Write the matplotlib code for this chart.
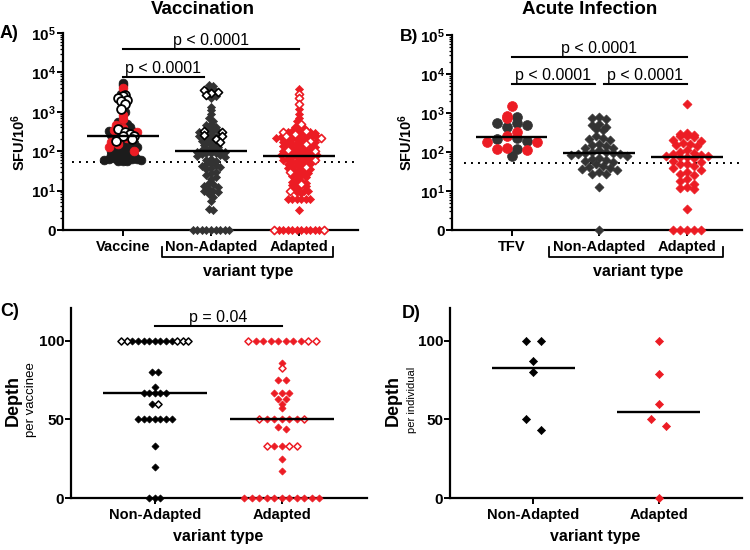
import numpy as np
import matplotlib
matplotlib.use('Agg')
import matplotlib.pyplot as plt
import matplotlib.transforms as mtransforms
from matplotlib.ticker import NullFormatter

plt.rcParams['font.family'] = ['Liberation Sans', 'DejaVu Sans']
plt.rcParams['mathtext.fontset'] = 'custom'
plt.rcParams['mathtext.rm'] = 'Liberation Sans:bold'
plt.rcParams['mathtext.it'] = 'Liberation Sans:bold'
plt.rcParams['mathtext.bf'] = 'Liberation Sans:bold'

RED = '#ec1c24'
DARK = '#333333'

# ---- panel A: vaccination, SFU/10^6 ----
a_cats = ['Vaccine', 'Non-Adapted', 'Adapted']
vac_black = [5500, 4800, 2800, 1000, 600, 550, 500, 480, 450, 400, 350, 330, 320, 300,
             280, 260, 230, 210, 190, 180, 170, 160, 150, 140, 140, 130, 125, 120, 115,
             110, 105, 100, 95, 90, 88, 85, 80, 78, 75, 72, 70, 68, 65, 64, 62, 61, 60,
             58, 57, 56]
vac_red = [4000, 1500, 850, 650, 450, 380, 350, 310, 220, 170, 150, 130, 100]
vac_open = [2600, 2500, 2300, 2000, 1900, 1600, 1200, 370, 300, 280, 250, 240, 200, 180]
na_a_fill = [4800, 4500, 4000, 3800, 2500, 2200, 1300, 1100, 900, 700, 600, 500, 450,
             400, 380, 350, 320, 300, 280, 260, 250, 240, 220, 210, 180, 160, 150, 140,
             130, 120, 115, 110, 105, 100, 98, 95, 92, 90, 88, 85, 80, 75, 70, 65, 60,
             55, 50, 48, 45, 42, 40, 38, 35, 30, 28, 25, 22, 20, 16, 15, 13, 12, 11, 10,
             10, 9, 8, 7, 5.5, 3.5, 3.2, 0, 0, 0, 0, 0, 0, 0, 0, 0]
na_a_open = [3500, 3200, 3000, 2600, 330, 300, 260, 240, 200, 170]
ad_a_fill = [3900, 1200, 900, 700, 600, 450, 400, 380, 350, 330, 320, 300, 300, 290, 280,
             270, 260, 250, 240, 230, 225, 220, 210, 200, 200, 190, 180, 175, 170, 160,
             155, 150, 145, 140, 135, 130, 125, 120, 115, 110, 105, 100, 98, 95, 92, 90,
             88, 85, 82, 80, 78, 75, 73, 70, 68, 65, 62, 60, 58, 55, 52, 50, 48, 46, 44,
             42, 40, 38, 36, 34, 32, 30, 28, 26, 25, 24, 22, 20, 18, 17, 16, 15, 14, 13,
             12, 11, 10, 9.5, 9, 8.5, 6, 6, 6, 6, 6, 6, 3.3,
             0, 0, 0, 0, 0, 0, 0, 0, 0, 0]
ad_a_open = [2900, 2200, 1600, 500, 320, 300, 280, 250, 220, 180, 150, 110, 100, 60, 40,
             30, 15, 10, 0, 0]
med_a = [250, 100, 75]

# ---- panel B: acute infection ----
b_cats = ['TFV', 'Non-Adapted', 'Adapted']
tfv_dark = [800, 550, 550, 490, 430, 225, 210, 195, 117, 79]
tfv_red = [1500, 830, 730, 330, 257, 184, 184, 129, 117, 112]
na_b = [780, 760, 700, 520, 480, 440, 400, 360, 250, 230, 220, 200, 160, 150, 140, 130,
        125, 115, 100, 98, 95, 92, 90, 88, 85, 80, 70, 66, 62, 58, 55, 48, 45, 42, 40,
        37, 35, 30, 28, 27, 13, 0]
ad_b = [1700, 300, 290, 270, 260, 250, 240, 200, 190, 170, 160, 150, 140, 110, 100, 95,
        90, 85, 80, 78, 76, 75, 72, 60, 55, 50, 48, 45, 38, 35, 30, 28, 25, 20, 18, 15,
        13, 12, 11, 3.5, 0, 0, 0, 0, 0]
med_b = [240, 92, 73]
cutoff = 52

# ---- panel C: depth per vaccinee ----
cd_cats = ['Non-Adapted', 'Adapted']
na_c_fill = [100, 100, 100, 100, 100, 100, 100, 100, 80, 80, 71, 67, 67, 67, 67, 67, 60,
             50, 50, 50, 50, 50, 50, 50, 33, 20, 0, 0, 0]
na_c_open = [100, 100, 100, 100, 100, 60]
ad_c_fill = [100, 100, 100, 100, 100, 100, 100, 86, 75, 75, 67, 67, 67, 63, 63, 60, 57,
             50, 50, 50, 50, 50, 45, 44, 33, 33, 25, 17,
             0, 0, 0, 0, 0, 0, 0, 0, 0, 0, 0]
ad_c_open = [100, 100, 100, 83, 50, 50, 33, 33, 33]
med_c = [67, 50]

# ---- panel D: depth per individual ----
na_d = [100, 100, 87, 80, 50, 43]
ad_d = [100, 79, 60, 50, 46, 0]
med_d = [83, 55]

W, H = 750, 550
fig = plt.figure(figsize=(7.5, 5.5), dpi=100)


def box(l, t, r, b):
    return [l / W, 1 - b / H, (r - l) / W, (b - t) / H]


def spread(ax, xc, vals, dx, dy):
    # row-based scatter: points falling in the same pixel row are laid side by side,
    # highest value in the middle, then alternating outwards
    vals = np.asarray(vals, float)
    if ax.get_yscale() == 'log':
        vals = np.where(vals > 0, vals, 1)
    pts = ax.transData.transform(np.column_stack([np.full(len(vals), xc), vals]))
    y0 = ax.transData.transform((xc, ax.get_ylim()[0]))[1]
    rows = np.round((pts[:, 1] - y0) / dy)
    offs = np.zeros(len(vals))
    for r in np.unique(rows):
        idx = np.where(rows == r)[0]
        idx = idx[np.argsort(-vals[idx], kind='stable')]
        slots = (np.arange(len(idx)) - (len(idx) - 1) / 2) * dx
        slots = slots[np.argsort(np.abs(slots), kind='stable')]
        offs[idx] = slots
    back = ax.transData.inverted().transform(np.column_stack([pts[:, 0] + offs, pts[:, 1]]))
    return back[:, 0], vals


def group(ax, xc, parts, marker, s, dx, dy):
    allv = np.concatenate([np.asarray(p[0], float) for p in parts])
    xs, ys = spread(ax, xc, allv, dx, dy)
    i = 0
    for vals, face, edge, lw in parts:
        n = len(vals)
        ax.scatter(xs[i:i + n], ys[i:i + n], s=s, marker=marker, c=face,
                   edgecolors=edge, linewidths=lw, clip_on=False, zorder=3)
        i += n


def style(ax, cats):
    for side in ['top', 'right']:
        ax.spines[side].set_visible(False)
    for side in ['left', 'bottom']:
        ax.spines[side].set_linewidth(1.6)
    ax.set_xticks(range(len(cats)))
    ax.set_xticklabels(cats, fontweight='bold', fontsize=10.5)
    ax.tick_params(axis='x', length=4, width=1.4, pad=3)
    ax.tick_params(axis='y', which='major', length=4, width=1.4, pad=1, labelsize=11)
    for lab in ax.get_yticklabels():
        lab.set_fontweight('bold')


def logaxis(ax):
    ax.set_yscale('log')
    ax.set_ylim(1, 1e5)
    ax.set_yticks([1, 10, 100, 1e3, 1e4, 1e5])
    ax.set_yticklabels(['0', r'$10^{1}$', r'$10^{2}$', r'$10^{3}$', r'$10^{4}$', r'$10^{5}$'])
    ax.yaxis.set_minor_formatter(NullFormatter())
    ax.tick_params(axis='y', which='minor', length=2.2, width=0.9)


def sig(ax, x1, x2, y, text):
    ax.plot([x1, x2], [y, y], color='k', lw=1.5, clip_on=False)
    ax.annotate(text, xy=((x1 + x2) / 2, y), xytext=(0, 1), textcoords='offset points',
                ha='center', va='bottom', fontsize=11.5)


def bracket(ax, x1, x2, xm):
    tr = mtransforms.blended_transform_factory(ax.transData, ax.transAxes)
    ax.plot([x1, x1, x2, x2], [-0.086, -0.137, -0.137, -0.086], transform=tr,
            color='k', lw=1.3, clip_on=False)
    ax.text(xm, -0.213, 'variant type', transform=tr, ha='center', va='center',
            fontweight='bold', fontsize=11.5)


# ---------------- A ----------------
axA = fig.add_axes(box(63, 33, 358, 230))
logaxis(axA)
axA.set_xlim(-0.68, 2.67)
style(axA, a_cats)
group(axA, 0, [(vac_black, '#1c1c1c', '#1c1c1c', 0.5), (vac_red, RED, RED, 0.5),
               (vac_open, 'white', 'black', 1.3)], 'o', 40, 4.6, 4)
group(axA, 1, [(na_a_fill, DARK, DARK, 0.5), (na_a_open, 'white', 'black', 1.2)],
      'D', 17, 4.6, 5)
group(axA, 2, [(ad_a_fill, RED, RED, 0.5), (ad_a_open, 'white', RED, 1.2)],
      'D', 17, 4.5, 4.5)
for i, m in enumerate(med_a):
    axA.hlines(m, i - 0.41, i + 0.41, color='k', lw=1.7, zorder=4)
axA.axhline(cutoff, xmin=0.03, color='k', ls=(0, (1, 2.6)), lw=1.4, zorder=2)
sig(axA, 0, 2, 3.9e4, 'p < 0.0001')
sig(axA, 0, 0.92, 7.6e3, 'p < 0.0001')
bracket(axA, 0.44, 2.39, 1.42)

# ---------------- B ----------------
axB = fig.add_axes(box(452, 35, 742, 230))
logaxis(axB)
axB.set_xlim(-0.68, 2.63)
style(axB, b_cats)
group(axB, 0, [(tfv_dark, DARK, DARK, 0.5), (tfv_red, RED, RED, 0.5)], 'o', 50, 10, 9)
group(axB, 1, [(na_b, DARK, DARK, 0.5)], 'D', 21, 7, 7)
group(axB, 2, [(ad_b, RED, RED, 0.5)], 'D', 21, 7, 7)
for i, m in enumerate(med_b):
    axB.hlines(m, i - 0.41, i + 0.41, color='k', lw=1.7, zorder=4)
axB.axhline(cutoff, xmin=0.04, color='k', ls=(0, (1, 2.6)), lw=1.4, zorder=2)
sig(axB, 0, 2, 2.7e4, 'p < 0.0001')
sig(axB, 0, 0.95, 5.5e3, 'p < 0.0001')
sig(axB, 1.05, 2, 5.5e3, 'p < 0.0001')
bracket(axB, 0.43, 2.41, 1.44)

# ---------------- C ----------------
axC = fig.add_axes(box(71, 308, 367, 498))
axC.set_ylim(0, 121)
axC.set_xlim(-0.66, 1.67)
axC.set_yticks([0, 50, 100])
style(axC, cd_cats)
group(axC, 0, [(na_c_fill, 'black', 'black', 0.5), (na_c_open, 'white', 'black', 1.1)],
      'D', 13, 5.6, 5)
group(axC, 1, [(ad_c_fill, RED, RED, 0.5), (ad_c_open, 'white', RED, 1.1)],
      'D', 13, 7.5, 5)
for i, m in enumerate(med_c):
    axC.hlines(m, i - 0.41, i + 0.41, color='k', lw=1.7, zorder=4)
sig(axC, 0, 1, 109.5, 'p = 0.04')
trC = mtransforms.blended_transform_factory(axC.transData, axC.transAxes)
axC.text(0.5, -0.205, 'variant type', transform=trC, ha='center', va='center',
         fontweight='bold', fontsize=11.5)

# ---------------- D ----------------
axD = fig.add_axes(box(450, 308, 742, 498))
axD.set_ylim(0, 121)
axD.set_xlim(-0.66, 1.66)
axD.set_yticks([0, 50, 100])
style(axD, cd_cats)
group(axD, 0, [(na_d, 'black', 'black', 0.5)], 'D', 17, 15, 15)
group(axD, 1, [(ad_d, RED, RED, 0.5)], 'D', 17, 15, 15)
for i, m in enumerate(med_d):
    axD.hlines(m, i - 0.33, i + 0.33, color='k', lw=1.7, zorder=4)
trD = mtransforms.blended_transform_factory(axD.transData, axD.transAxes)
axD.text(0.49, -0.205, 'variant type', transform=trD, ha='center', va='center',
         fontweight='bold', fontsize=11.5)

# ---------------- labels ----------------
def ftext(x, y, s, **kw):
    fig.text(x / W, 1 - y / H, s, **kw)


ftext(203, 10, 'Vaccination', ha='center', va='center', fontweight='bold', fontsize=13.5)
ftext(590, 10, 'Acute Infection', ha='center', va='center', fontweight='bold', fontsize=13.5)
ftext(0, 34, 'A)', ha='left', va='center', fontweight='bold', fontsize=13)
ftext(400, 36, 'B)', ha='left', va='center', fontweight='bold', fontsize=12.5)
ftext(0, 311, 'C)', ha='left', va='center', fontweight='bold', fontsize=13)
ftext(402, 314, 'D)', ha='left', va='center', fontweight='bold', fontsize=13)
ftext(19, 142, r'SFU/10$^{6}$', rotation=90, ha='center', va='center',
      fontweight='bold', fontsize=10.5)
ftext(406, 142, r'SFU/10$^{6}$', rotation=90, ha='center', va='center',
      fontweight='bold', fontsize=10.5)
ftext(13, 400, 'Depth', rotation=90, ha='center', va='center', fontweight='bold', fontsize=13)
ftext(31, 400, 'per vaccinee', rotation=90, ha='center', va='center', fontsize=9.5)
ftext(393, 400, 'Depth', rotation=90, ha='center', va='center', fontweight='bold', fontsize=13)
ftext(412, 400, 'per individual', rotation=90, ha='center', va='center', fontsize=8)

fig.savefig('out.png', dpi=100)
